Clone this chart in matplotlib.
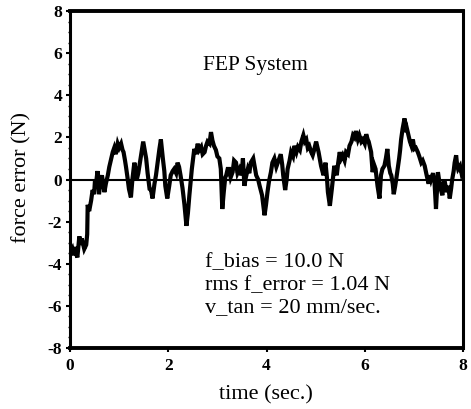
import matplotlib
matplotlib.use("Agg")
import matplotlib.pyplot as plt
from matplotlib.ticker import MultipleLocator

plt.rcParams['axes.unicode_minus'] = False

time_s = [0.00,0.03,0.05,0.08,0.10,0.12,0.15,0.17,0.19,0.22,0.24,0.26,0.29,0.33,0.35,0.36,0.39,0.43,0.46,0.49,
          0.51,0.53,0.56,0.59,0.62,0.65,0.68,0.70,0.73,0.77,0.80,0.84,0.87,0.90,0.93,0.97,1.00,1.04,1.07,1.09,
          1.12,1.14,1.17,1.20,1.24,1.27,1.31,1.34,1.36,1.39,1.41,1.45,1.49,1.52,1.55,1.58,1.62,1.65,1.68,1.72,
          1.75,1.79,1.82,1.85,1.89,1.92,1.94,1.98,2.02,2.05,2.09,2.12,2.16,2.19,2.22,2.25,2.29,2.33,2.37,2.40,
          2.43,2.46,2.48,2.53,2.56,2.60,2.63,2.67,2.70,2.74,2.77,2.80,2.84,2.87,2.90,2.93,2.97,3.00,3.04,3.07,
          3.10,3.13,3.16,3.18,3.21,3.24,3.27,3.31,3.34,3.38,3.41,3.45,3.49,3.52,3.55,3.58,3.62,3.65,3.68,3.73,
          3.76,3.79,3.83,3.86,3.91,3.94,3.96,3.99,4.02,4.05,4.09,4.12,4.16,4.20,4.23,4.26,4.29,4.32,4.34,4.38,
          4.41,4.43,4.47,4.50,4.54,4.57,4.61,4.64,4.68,4.71,4.75,4.78,4.81,4.84,4.87,4.91,4.94,4.97,5.01,5.04,
          5.06,5.11,5.16,5.20,5.23,5.25,5.29,5.33,5.36,5.38,5.43,5.46,5.49,5.52,5.55,5.59,5.62,5.66,5.69,5.73,
          5.76,5.79,5.82,5.86,5.89,5.93,5.96,6.00,6.03,6.06,6.08,6.11,6.13,6.16,6.19,6.22,6.26,6.30,6.33,6.36,
          6.40,6.43,6.46,6.49,6.52,6.54,6.57,6.59,6.62,6.64,6.67,6.70,6.72,6.74,6.77,6.81,6.84,6.86,6.89,6.92,
          6.95,6.98,7.01,7.04,7.08,7.11,7.15,7.18,7.22,7.26,7.30,7.33,7.35,7.39,7.42,7.45,7.47,7.49,7.53,7.58,
          7.60,7.62,7.67,7.70,7.73,7.76,7.78,7.81,7.83,7.86,7.88,7.90,7.94,7.97,8.00]

force_error = [-3.1,-3.4,-3.3,-3.6,-3.2,-3.5,-3.7,-3.2,-2.7,-3.1,-2.8,-3.0,-3.3,-3.1,-2.6,-1.2,-1.5,-1.0,-0.5,-0.7,
               0.0,-0.2,0.4,-0.7,-0.1,0.2,-0.3,-0.6,-0.2,0.2,0.6,1.0,1.3,1.5,1.2,1.7,1.5,1.7,1.4,1.3,
               0.9,0.6,0.1,-0.45,-0.85,0.0,0.8,0.4,0.0,0.3,0.6,1.2,1.8,1.4,1.0,0.3,-0.45,-0.5,-0.9,-0.2,
               0.2,0.9,1.45,1.9,1.0,0.4,-0.3,-0.9,-0.3,0.2,0.4,0.5,0.3,0.8,0.6,0.2,-0.4,-1.2,-2.2,-1.6,
               -0.75,0.0,0.5,1.45,1.2,1.7,1.4,1.55,1.2,1.3,1.6,1.8,1.7,2.25,1.85,1.6,1.4,1.1,1.0,0.5,
               -1.4,-0.6,0.1,0.2,0.5,0.5,0.1,0.35,0.9,0.8,0.3,0.5,0.2,1.0,-0.3,0.1,0.5,0.3,0.8,1.0,
               0.6,0.2,0.0,-0.3,-0.75,-1.3,-1.7,-1.2,-0.6,-0.1,0.35,0.8,1.0,0.6,0.8,1.0,1.2,0.7,0.2,-0.5,
               0.0,0.5,0.9,1.3,1.1,1.6,1.3,1.55,1.4,1.8,2.1,1.8,1.9,1.5,1.6,1.3,1.15,1.4,1.8,1.5,
               1.3,0.65,0.2,0.8,0.1,-0.6,-1.25,-0.45,0.2,0.65,0.2,0.8,1.3,1.0,1.15,0.9,1.3,1.2,1.6,1.8,
               2.1,2.0,2.3,1.9,2.1,1.8,1.9,1.7,2.15,1.9,1.8,1.5,1.3,0.35,0.7,0.5,-0.3,-0.9,0.2,0.5,
               0.65,1.0,1.45,0.65,0.3,0.2,-0.2,-0.7,-0.3,0.0,0.5,1.0,1.4,1.9,2.4,2.9,2.25,2.4,2.1,1.8,
               1.6,1.9,1.45,1.5,1.3,1.1,0.8,0.9,0.65,0.2,-0.2,0.2,0.0,0.3,-0.1,-1.4,-0.5,0.35,-0.3,-0.75,
               -0.2,0.0,-0.6,-0.3,-0.9,-0.4,0.0,0.4,0.8,1.15,0.7,0.5,0.65,0.3,0.5]

x_ticks = [0, 2, 4, 6, 8]
y_ticks = [-8, -6, -4, -2, 0, 2, 4, 6, 8]

annotation_title = "FEP System"
annotation_lines = ["f_bias = 10.0 N", "rms f_error = 1.04 N", "v_tan = 20 mm/sec."]

serif = ['Liberation Serif', 'DejaVu Serif']

fig = plt.figure(figsize=(4.71, 4.09), dpi=100)
ax = fig.add_axes([70/471, 1-348/409, (463-70)/471, (348-11)/409])

ax.axhline(0, color='black', lw=1.5, zorder=1)
ax.plot(time_s, force_error, color='black', lw=3.0, solid_joinstyle='miter', zorder=2)

ax.set_xlim(0, 8)
ax.set_ylim(-8, 8)
ax.set_xticks(x_ticks)
ax.set_yticks(y_ticks)
ax.set_xticklabels([str(v) for v in x_ticks], fontfamily=serif, fontweight='bold', fontsize=12.5)
ax.set_yticklabels([str(v) for v in y_ticks], fontfamily=serif, fontweight='bold', fontsize=12.5)
ax.yaxis.set_minor_locator(MultipleLocator(0.5))
ax.tick_params(axis='both', which='major', direction='out', length=3, width=1.5, pad=2.5)
ax.tick_params(axis='x', which='major', pad=4)
ax.tick_params(axis='y', which='minor', direction='out', length=1.5, width=1)

for side in ['left', 'right']:
    ax.spines[side].set_linewidth(2.2)
for side in ['top', 'bottom']:
    ax.spines[side].set_linewidth(2.8)

ax.text(0.338, 0.825, annotation_title, transform=ax.transAxes, fontfamily=serif,
        fontsize=15.5, ha='left', va='baseline')
for txt, yb in zip(annotation_lines, [0.240, 0.172, 0.107]):
    ax.text(0.343, yb, txt, transform=ax.transAxes, fontfamily=serif,
            fontsize=16, ha='left', va='baseline')

fig.text(22/471, 1-177/409, "force error (N)", rotation=90, ha='center', va='center',
         fontfamily=serif, fontsize=16)
fig.text(266/471, 1-395/409, "time (sec.)", ha='center', va='center',
         fontfamily=serif, fontsize=16)

fig.savefig("out.png", dpi=100)
